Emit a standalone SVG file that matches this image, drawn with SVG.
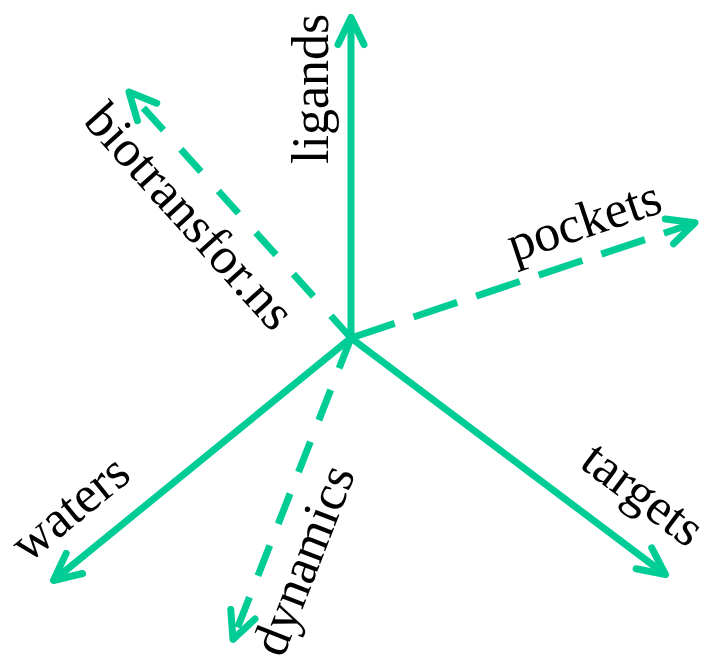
<svg xmlns="http://www.w3.org/2000/svg" width="703" height="660" viewBox="0 0 703 660">
<defs>
<marker id="ah" markerUnits="userSpaceOnUse" viewBox="-40 -40 80 80" markerWidth="80" markerHeight="80" refX="0" refY="0" orient="auto">
<path d="M-27,-13 L0,0 L-27,13" fill="none" stroke="#00cc96" stroke-width="7" stroke-linecap="round" stroke-linejoin="round"/>
</marker>
</defs>
<style>
.ax{stroke:#00cc96;stroke-width:7;fill:none;marker-end:url(#ah)}
.lbl{font-family:"Liberation Serif","Times New Roman",serif;font-size:52px;fill:#000}
</style>
<rect width="703" height="660" fill="#fff"/>
<g id="connectors">
<line class="ax" x1="351" y1="338" x2="351" y2="17.5"/>
<line class="ax" x1="351" y1="338" x2="665.5" y2="574.6"/>
<line class="ax" x1="351" y1="338" x2="53.4" y2="580.5"/>
<line class="ax" x1="351" y1="338" x2="695" y2="222.8" stroke-dasharray="46 20"/>
<line class="ax" x1="351" y1="338" x2="233" y2="639.4" stroke-dasharray="32.5 23.2"/>
<line class="ax" x1="351" y1="338" x2="129" y2="91.9" stroke-dasharray="30 26"/>
</g>
<g id="ligands"><text class="lbl" transform="translate(328,164) rotate(-90)">ligands</text></g>
<g id="pockets"><text class="lbl" transform="translate(514,262) rotate(-18.52)">pockets</text></g>
<g id="targets"><text class="lbl" transform="translate(578,466) rotate(36.95)">targets</text></g>
<g id="waters"><text class="lbl" transform="translate(28,564) rotate(-39.17)">waters</text></g>
<g id="dynamics"><text class="lbl" transform="translate(283,659) rotate(-68.62)">dynamics</text></g>
<g id="biotransforns"><text class="lbl" transform="translate(82,122) rotate(47.95)">biotransfor.ns</text></g>
</svg>
